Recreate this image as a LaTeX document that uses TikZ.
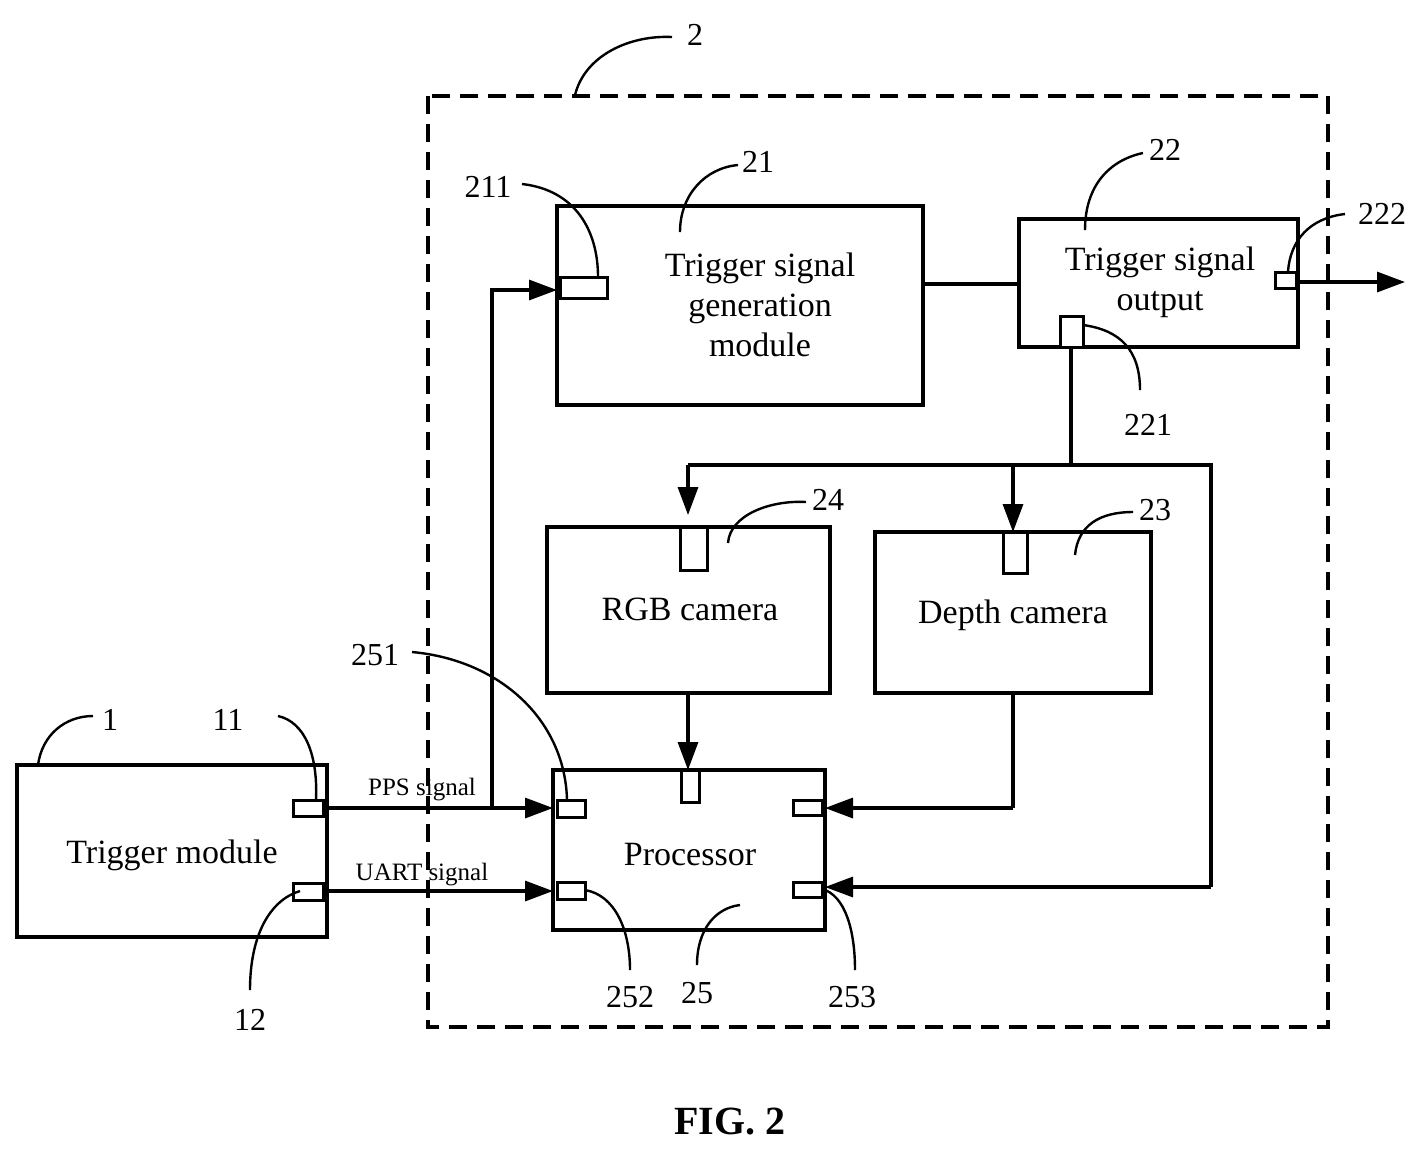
\documentclass[tikz,border=0pt]{standalone}
\usepackage{fontspec}
\setmainfont{Liberation Serif}
\usetikzlibrary{arrows.meta}
\begin{document}
\begin{tikzpicture}[x=0.5pt,y=-0.5pt,
 box/.style={draw,line width=1.6pt},
 port/.style={draw,line width=1.5pt,fill=white},
 ln/.style={line width=1.6pt},
 arr/.style={ln,-{Triangle[length=14pt,width=10pt]}},
 lead/.style={line width=1.2pt},
 txt/.style={font=\fontsize{17}{20}\selectfont,align=center},
 lab/.style={font=\fontsize{16}{18}\selectfont},
 sig/.style={font=\fontsize{12.5}{14}\selectfont}]
\useasboundingbox (0,0) rectangle (1428,1148);
\draw[line width=1.6pt,dash pattern=on 9pt off 5pt] (428,96) rectangle (1328,1027);
% boxes
\draw[box] (557,206) rectangle (923,405);
\node[txt] (gen) at (760,305) {Trigger signal\\generation\\module};
\draw[box] (1019,219) rectangle (1298,347);
\node[txt] (out) at (1160,282) {Trigger signal\\output};
\draw[box] (547,527) rectangle (830,693);
\node[txt] (rgb) at (690,609) {RGB camera};
\draw[box] (875,532) rectangle (1151,693);
\node[txt] (dep) at (1013,615) {Depth camera};
\draw[box] (553,770) rectangle (825,930);
\node[txt] (proc) at (690,855) {Processor};
\draw[box] (17,765) rectangle (327,937);
\node[txt] (trig) at (172,855) {Trigger module};
% connectors
\draw[ln] (923,284) -- (1019,284);
\draw[arr] (1296,282) -- (1405,282);
\draw[ln] (1071,347) -- (1071,465);
\draw[ln] (688,465) -- (1211,465) -- (1211,887);
\draw[arr] (688,465) -- (688,515);
\draw[arr] (1013,465) -- (1013,532);
\draw[arr] (1211,887) -- (825,887);
\draw[arr] (688,693) -- (688,770);
\draw[ln] (1013,693) -- (1013,808);
\draw[arr] (1013,808) -- (825,808);
\draw[arr] (323,808) -- (553,808);
\draw[arr] (323,891) -- (553,891);
\draw[arr] (492,808) -- (492,290) -- (557,290);
\node[sig] (pps) at (422,790) {PPS signal};
\node[sig] (uart) at (422,875) {UART signal};
% ports
\draw[port] (560,277) rectangle (607,298);
\draw[port] (1275,272) rectangle (1296,288);
\draw[port] (1060,316) rectangle (1083,347);
\draw[port] (680,527) rectangle (707,570);
\draw[port] (1003,532) rectangle (1027,573);
\draw[port] (681,770) rectangle (699,802);
\draw[port] (557,800) rectangle (585,817);
\draw[port] (557,882) rectangle (585,899);
\draw[port] (793,800) rectangle (822,815);
\draw[port] (793,882) rectangle (822,897);
\draw[port] (293,800) rectangle (323,816);
\draw[port] (293,883) rectangle (323,900);
% labels and leaders
\node[lab] (l2) at (695,35) {2};
\draw[lead] (575,95) .. controls (585,55) and (630,35) .. (672,37);
\node[lab] (l211) at (488,187) {211};
\draw[lead] (522,184) .. controls (575,190) and (598,230) .. (598,277);
\node[lab] (l21) at (758,162) {21};
\draw[lead] (680,232) .. controls (680,195) and (705,168) .. (738,165);
\node[lab] (l22) at (1165,150) {22};
\draw[lead] (1085,230) .. controls (1085,185) and (1110,160) .. (1143,153);
\node[lab] (l222) at (1382,214) {222};
\draw[lead] (1288,272) .. controls (1290,240) and (1310,218) .. (1345,214);
\node[lab] (l221) at (1148,425) {221};
\draw[lead] (1083,325) .. controls (1120,330) and (1140,350) .. (1140,390);
\node[lab] (l24) at (828,500) {24};
\draw[lead] (728,543) .. controls (730,515) and (770,500) .. (806,502);
\node[lab] (l23) at (1155,510) {23};
\draw[lead] (1075,555) .. controls (1078,525) and (1100,512) .. (1133,512);
\node[lab] (l251) at (375,655) {251};
\draw[lead] (412,652) .. controls (500,660) and (565,720) .. (567,800);
\node[lab] (l1) at (110,720) {1};
\draw[lead] (38,765) .. controls (42,735) and (65,716) .. (93,716);
\node[lab] (l11) at (228,720) {11};
\draw[lead] (278,716) .. controls (305,722) and (318,755) .. (316,800);
\node[lab] (l12) at (250,1020) {12};
\draw[lead] (250,990) .. controls (250,935) and (270,900) .. (300,891);
\node[lab] (l252) at (630,997) {252};
\draw[lead] (585,890) .. controls (615,895) and (630,930) .. (630,970);
\node[lab] (l25) at (697,993) {25};
\draw[lead] (697,965) .. controls (697,930) and (715,908) .. (740,905);
\node[lab] (l253) at (852,997) {253};
\draw[lead] (822,889) .. controls (845,895) and (855,930) .. (855,970);
\node[font=\bfseries\fontsize{20}{24}\selectfont] (fig) at (730,1122) {FIG. 2};
\end{tikzpicture}
\end{document}
